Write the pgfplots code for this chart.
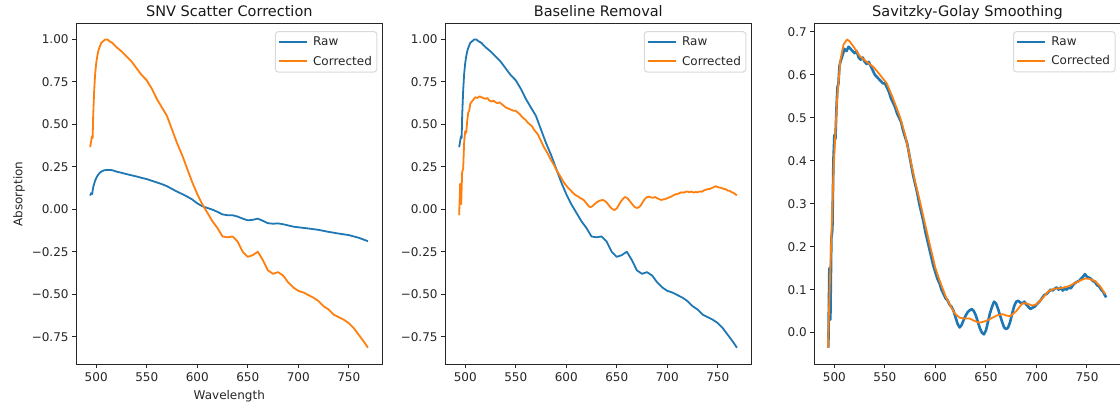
\documentclass[border=0pt]{standalone}
\usepackage{pgfplots}
\pgfplotsset{compat=1.18}
\usepackage{pgfplotstable}
\usepackage{fontspec}
\setmainfont{DejaVu Sans}
\definecolor{tabblue}{HTML}{1F77B4}
\definecolor{taborange}{HTML}{FF7F0E}

% A: raw spectrum (panel 1 blue)
\pgfplotstableread{
x y
494 0.081
495 0.095
496 0.090
497 0.130
499 0.170
501 0.195
503 0.212
505 0.222
508 0.230
512 0.232
516 0.230
520 0.222
525 0.215
530 0.207
535 0.200
540 0.193
545 0.185
550 0.178
555 0.168
560 0.158
565 0.148
570 0.136
575 0.120
580 0.104
585 0.090
590 0.075
595 0.058
600 0.035
605 0.018
610 0.008
615 -0.002
620 -0.015
625 -0.030
630 -0.035
635 -0.035
640 -0.043
645 -0.055
650 -0.065
655 -0.062
660 -0.055
665 -0.068
670 -0.082
675 -0.085
680 -0.083
685 -0.088
690 -0.095
695 -0.102
700 -0.106
710 -0.113
720 -0.121
730 -0.133
740 -0.143
750 -0.152
760 -0.168
769 -0.188
}\dataA

% B: SNV corrected (panel 1 orange, panel 2 blue)
\pgfplotstableread{
x y
494 0.366
495 0.400
495.8 0.430
496.5 0.420
497 0.550
498 0.700
499 0.800
500 0.860
501 0.900
502 0.930
503 0.950
505 0.980
507 0.990
509 1.000
511 1.000
513 0.990
516 0.980
520 0.955
525 0.930
530 0.900
535 0.870
540 0.830
545 0.790
550 0.760
555 0.710
560 0.650
565 0.600
570 0.550
575 0.470
580 0.390
585 0.320
590 0.240
595 0.160
600 0.090
605 0.030
610 -0.020
615 -0.070
620 -0.110
625 -0.160
630 -0.165
635 -0.160
640 -0.190
645 -0.250
650 -0.280
655 -0.270
660 -0.250
665 -0.300
670 -0.360
675 -0.380
680 -0.370
685 -0.390
690 -0.430
695 -0.460
700 -0.480
705 -0.490
710 -0.505
715 -0.520
720 -0.540
725 -0.570
730 -0.590
735 -0.620
740 -0.635
745 -0.650
750 -0.670
755 -0.700
760 -0.740
765 -0.780
769 -0.815
}\dataB

% C: baseline removed (panel 2 orange, panel 3 blue)
\pgfplotstableread{
x y
494 -0.035
495 0.150
496 0.030
497 0.220
498 0.240
499 0.400
500 0.460
501 0.450
502 0.520
503 0.570
504 0.580
505 0.620
506 0.630
508 0.645
510 0.660
512 0.655
514 0.665
516 0.660
518 0.655
520 0.650
522 0.655
524 0.640
526 0.635
528 0.640
530 0.630
532 0.625
534 0.630
536 0.620
538 0.610
540 0.600
542 0.595
544 0.590
546 0.585
548 0.580
550 0.580
552 0.570
554 0.560
556 0.545
558 0.535
560 0.525
562 0.510
564 0.500
566 0.490
568 0.470
570 0.455
572 0.440
574 0.415
576 0.390
578 0.365
580 0.345
582 0.325
584 0.300
586 0.280
588 0.260
590 0.235
592 0.215
594 0.195
596 0.175
598 0.155
600 0.140
602 0.125
604 0.115
606 0.100
608 0.090
610 0.080
612 0.075
614 0.065
616 0.060
618 0.050
620 0.035
622 0.020
624 0.012
626 0.018
628 0.030
630 0.040
632 0.048
634 0.052
636 0.055
638 0.050
640 0.040
642 0.025
644 0.010
646 0.000
648 -0.004
650 0.005
652 0.025
654 0.045
656 0.060
658 0.072
660 0.068
662 0.055
664 0.040
666 0.025
668 0.012
670 0.008
672 0.012
674 0.025
676 0.045
678 0.062
680 0.072
682 0.074
684 0.070
686 0.068
688 0.072
690 0.065
692 0.060
694 0.055
696 0.058
698 0.060
700 0.065
702 0.070
704 0.075
706 0.082
708 0.088
710 0.090
712 0.095
714 0.100
716 0.098
718 0.102
720 0.105
722 0.100
724 0.105
726 0.098
728 0.102
730 0.100
732 0.105
734 0.103
736 0.110
738 0.115
740 0.118
742 0.120
744 0.125
746 0.130
748 0.136
750 0.130
752 0.128
754 0.125
756 0.120
758 0.118
760 0.110
762 0.108
764 0.100
766 0.095
768 0.086
769 0.082
}\dataC

% D: Savitzky-Golay smoothed (panel 3 orange)
\pgfplotstableread{
x y
493.5 -0.035
496 0.152
499.3 0.385
502.6 0.541
505.9 0.634
509 0.670
512.5 0.682
515 0.678
519 0.665
525.6 0.642
532 0.630
538.7 0.618
545 0.600
551.8 0.580
558 0.545
564.9 0.502
570 0.460
574.7 0.408
580 0.350
584.5 0.307
590 0.250
594.3 0.206
600 0.150
604.2 0.121
610 0.085
614 0.066
619 0.045
623.8 0.035
628 0.033
633.6 0.033
638 0.028
643.5 0.023
650 0.027
656.6 0.035
661 0.040
666.4 0.043
670 0.040
674 0.038
680 0.050
686 0.068
690 0.068
696 0.063
700 0.066
706 0.080
712 0.097
718 0.102
725.4 0.104
732 0.108
738 0.115
744 0.122
748.3 0.126
752 0.125
758 0.120
763 0.108
768 0.090
}\dataD

\pgfplotsset{
  legend image code/.code={\draw[#1] (0pt,0pt) -- (28pt,0pt);},
  panel/.style={
    width=306pt, height=340pt, scale only axis,
    xmin=480.3, xmax=783.2,
    xtick={500,550,600,650,700,750},
    tick align=outside, tick pos=left,
    major tick length=4.2pt,
    every tick/.style={black!85, line width=1pt},
    axis line style={black!85, line width=1pt},
    tick label style={font=\fontsize{12}{14}\selectfont, text=black!85},
    xticklabel style={yshift=-1pt},
    /pgf/number format/assume math mode=true,
    title style={font=\fontsize{14.5}{17}\selectfont, text=black!90,
      at={(0.5,1)}, anchor=base, yshift=1pt},
    label style={font=\fontsize{12}{14}\selectfont, text=black!85},
    xlabel style={yshift=-2pt},
    legend style={at={(0.984,0.979)}, anchor=north east, draw=black!15,
      line width=1pt, rounded corners=3pt, font=\fontsize{12}{14}\selectfont,
      text=black!85, inner xsep=3pt, inner ysep=3.5pt, row sep=4.5pt,
      /tikz/every odd column/.append style={column sep=3pt}},
    legend cell align=left,
    every axis plot/.append style={line width=1.8pt, line join=round},
  },
}

\begin{document}
\begin{tikzpicture}
\useasboundingbox (0,0) rectangle (1120pt,405pt);

\begin{axis}[panel, at={(76.3pt,41pt)}, anchor=south west,
  title={SNV Scatter Correction},
  xlabel={Wavelength}, ylabel={Absorption},
  ymin=-0.911, ymax=1.091,
  ytick={-0.75,-0.5,-0.25,0,0.25,0.5,0.75,1},
  yticklabels={−0.75,−0.50,−0.25,0.00,0.25,0.50,0.75,1.00}]
\addplot[tabblue] table {\dataA};
\addlegendentry{Raw}
\addplot[taborange] table {\dataB};
\addlegendentry{Corrected}
\end{axis}

\begin{axis}[panel, at={(445.3pt,41pt)}, anchor=south west,
  title={Baseline Removal},
  ymin=-0.911, ymax=1.091,
  ytick={-0.75,-0.5,-0.25,0,0.25,0.5,0.75,1},
  yticklabels={−0.75,−0.50,−0.25,0.00,0.25,0.50,0.75,1.00}]
\addplot[tabblue] table {\dataB};
\addlegendentry{Raw}
\addplot[taborange] table {\dataC};
\addlegendentry{Corrected}
\end{axis}

\begin{axis}[panel, at={(814.5pt,41pt)}, anchor=south west,
  title={Savitzky-Golay Smoothing},
  ymin=-0.073, ymax=0.718,
  ytick={0,0.1,0.2,0.3,0.4,0.5,0.6,0.7},
  yticklabels={0.0,0.1,0.2,0.3,0.4,0.5,0.6,0.7}]
\addplot[tabblue, line width=2.6pt, legend image post style={line width=1.8pt}] table {\dataC};
\addlegendentry{Raw}
\addplot[taborange] table {\dataD};
\addlegendentry{Corrected}
\end{axis}
\end{tikzpicture}
\end{document}
